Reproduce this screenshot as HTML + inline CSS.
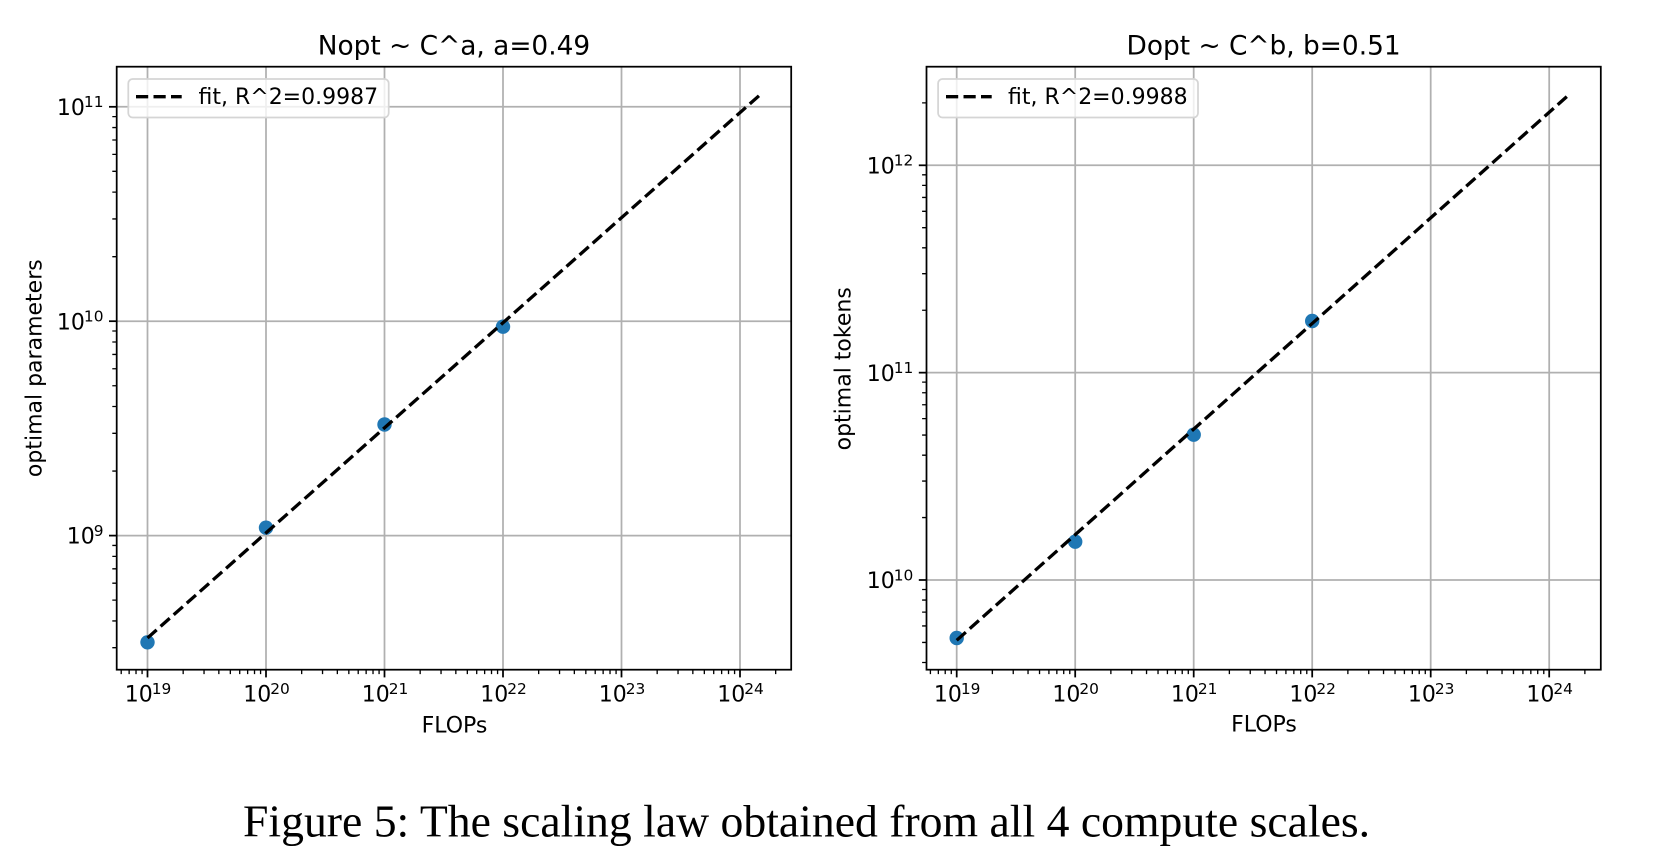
<!DOCTYPE html>
<html>
<head>
<meta charset="utf-8">
<style>
  html, body { margin: 0; padding: 0; background: #ffffff; }
  svg { display: block; }
  .t { font-family: "DejaVu Sans", "Liberation Sans", sans-serif; fill: #000; }
</style>
</head>
<body>
<svg width="1664" height="846" viewBox="0 0 1664 846" xmlns="http://www.w3.org/2000/svg">
  <rect x="0" y="0" width="1664" height="846" fill="#ffffff"/>

  <!-- ================= LEFT PANEL ================= -->
  <!-- grid -->
  <g stroke="#b0b0b0" stroke-width="1.76" fill="none">
    <line x1="147.5" y1="66.7" x2="147.5" y2="669.7"/>
    <line x1="266" y1="66.7" x2="266" y2="669.7"/>
    <line x1="384.5" y1="66.7" x2="384.5" y2="669.7"/>
    <line x1="503" y1="66.7" x2="503" y2="669.7"/>
    <line x1="621.5" y1="66.7" x2="621.5" y2="669.7"/>
    <line x1="740" y1="66.7" x2="740" y2="669.7"/>
    <line x1="116.7" y1="535.6" x2="791.2" y2="535.6"/>
    <line x1="116.7" y1="321.2" x2="791.2" y2="321.2"/>
    <line x1="116.7" y1="106.8" x2="791.2" y2="106.8"/>
  </g>
  <!-- points -->
  <g fill="#1f77b4">
    <circle cx="147.5" cy="642.3" r="7.2"/>
    <circle cx="266" cy="527.7" r="7.2"/>
    <circle cx="384.5" cy="424.5" r="7.2"/>
    <circle cx="503" cy="326.7" r="7.2"/>
  </g>
  <!-- fit line -->
  <line x1="147.5" y1="638" x2="761" y2="94" stroke="#000" stroke-width="3.3" stroke-dasharray="12.2 5.3" fill="none"/>
  <!-- spines -->
  <rect x="116.7" y="66.7" width="674.5" height="603" fill="none" stroke="#000" stroke-width="1.76"/>
  <!-- major ticks -->
  <g stroke="#000" stroke-width="1.76">
    <line x1="147.5" y1="669.7" x2="147.5" y2="677.4"/>
    <line x1="266" y1="669.7" x2="266" y2="677.4"/>
    <line x1="384.5" y1="669.7" x2="384.5" y2="677.4"/>
    <line x1="503" y1="669.7" x2="503" y2="677.4"/>
    <line x1="621.5" y1="669.7" x2="621.5" y2="677.4"/>
    <line x1="740" y1="669.7" x2="740" y2="677.4"/>
    <line x1="109" y1="535.6" x2="116.7" y2="535.6"/>
    <line x1="109" y1="321.2" x2="116.7" y2="321.2"/>
    <line x1="109" y1="106.8" x2="116.7" y2="106.8"/>
  </g>
  <!-- minor ticks -->
  <g stroke="#000" stroke-width="1.32">
    <path d="M121.21 669.7v4.4M129.14 669.7v4.4M136.02 669.7v4.4M142.08 669.7v4.4
             M183.17 669.7v4.4M204.04 669.7v4.4M218.84 669.7v4.4M230.33 669.7v4.4M239.71 669.7v4.4M247.64 669.7v4.4M254.52 669.7v4.4M260.58 669.7v4.4
             M301.67 669.7v4.4M322.54 669.7v4.4M337.34 669.7v4.4M348.83 669.7v4.4M358.21 669.7v4.4M366.14 669.7v4.4M373.02 669.7v4.4M379.08 669.7v4.4
             M420.17 669.7v4.4M441.04 669.7v4.4M455.84 669.7v4.4M467.33 669.7v4.4M476.71 669.7v4.4M484.64 669.7v4.4M491.52 669.7v4.4M497.58 669.7v4.4
             M538.67 669.7v4.4M559.54 669.7v4.4M574.34 669.7v4.4M585.83 669.7v4.4M595.21 669.7v4.4M603.14 669.7v4.4M610.02 669.7v4.4M616.08 669.7v4.4
             M657.17 669.7v4.4M678.04 669.7v4.4M692.84 669.7v4.4M704.33 669.7v4.4M713.71 669.7v4.4M721.64 669.7v4.4M728.52 669.7v4.4M734.58 669.7v4.4
             M775.67 669.7v4.4"/>
    <path d="M112.3 647.71h4.4M112.3 620.92h4.4M112.3 600.14h4.4M112.3 583.16h4.4M112.3 568.81h4.4M112.3 556.38h4.4M112.3 545.41h4.4
             M112.3 471.06h4.4M112.3 433.31h4.4M112.3 406.52h4.4M112.3 385.74h4.4M112.3 368.76h4.4M112.3 354.41h4.4M112.3 341.98h4.4M112.3 331.01h4.4
             M112.3 256.66h4.4M112.3 218.91h4.4M112.3 192.12h4.4M112.3 171.34h4.4M112.3 154.36h4.4M112.3 140.01h4.4M112.3 127.58h4.4M112.3 116.61h4.4"/>
  </g>
  <!-- x tick labels -->
  <g class="t" text-anchor="middle">
    <text x="148" y="701.7"><tspan font-size="22">10</tspan><tspan font-size="15.4" dx="-1" dy="-7.8">19</tspan></text>
    <text x="266.5" y="701.7"><tspan font-size="22">10</tspan><tspan font-size="15.4" dx="-1" dy="-7.8">20</tspan></text>
    <text x="385" y="701.7"><tspan font-size="22">10</tspan><tspan font-size="15.4" dx="-1" dy="-7.8">21</tspan></text>
    <text x="503.5" y="701.7"><tspan font-size="22">10</tspan><tspan font-size="15.4" dx="-1" dy="-7.8">22</tspan></text>
    <text x="622" y="701.7"><tspan font-size="22">10</tspan><tspan font-size="15.4" dx="-1" dy="-7.8">23</tspan></text>
    <text x="740.5" y="701.7"><tspan font-size="22">10</tspan><tspan font-size="15.4" dx="-1" dy="-7.8">24</tspan></text>
  </g>
  <!-- y tick labels -->
  <g class="t" text-anchor="end">
    <text x="103.5" y="543.7"><tspan font-size="22">10</tspan><tspan font-size="15.4" dx="-1" dy="-7.8">9</tspan></text>
    <text x="103.5" y="329.3"><tspan font-size="22">10</tspan><tspan font-size="15.4" dx="-1" dy="-7.8">10</tspan></text>
    <text x="103.5" y="114.9"><tspan font-size="22">10</tspan><tspan font-size="15.4" dx="-1" dy="-7.8">11</tspan></text>
  </g>
  <!-- labels -->
  <text class="t" x="454" y="54.3" font-size="26.4" text-anchor="middle">Nopt ~ C^a, a=0.49</text>
  <text class="t" x="454.5" y="732.5" font-size="22" text-anchor="middle">FLOPs</text>
  <text class="t" font-size="22" text-anchor="middle" transform="translate(41.7 368.2) rotate(-90)">optimal parameters</text>
  <!-- legend -->
  <rect x="128.3" y="79" width="260.4" height="38.5" rx="4.4" ry="4.4" fill="#ffffff" fill-opacity="0.8" stroke="#d5d5d5" stroke-width="1.76"/>
  <line x1="136" y1="96.7" x2="181.7" y2="96.7" stroke="#000" stroke-width="3.3" stroke-dasharray="12.2 5.3"/>
  <text class="t" x="198.5" y="104" font-size="22">fit, R^2=0.9987</text>

  <!-- ================= RIGHT PANEL ================= -->
  <g stroke="#b0b0b0" stroke-width="1.76" fill="none">
    <line x1="956.7" y1="66.7" x2="956.7" y2="669.7"/>
    <line x1="1075.2" y1="66.7" x2="1075.2" y2="669.7"/>
    <line x1="1193.7" y1="66.7" x2="1193.7" y2="669.7"/>
    <line x1="1312.2" y1="66.7" x2="1312.2" y2="669.7"/>
    <line x1="1430.7" y1="66.7" x2="1430.7" y2="669.7"/>
    <line x1="1549.2" y1="66.7" x2="1549.2" y2="669.7"/>
    <line x1="926.5" y1="580" x2="1600.8" y2="580"/>
    <line x1="926.5" y1="372.65" x2="1600.8" y2="372.65"/>
    <line x1="926.5" y1="165.3" x2="1600.8" y2="165.3"/>
  </g>
  <g fill="#1f77b4">
    <circle cx="956.7" cy="638" r="7.2"/>
    <circle cx="1075.2" cy="541.7" r="7.2"/>
    <circle cx="1193.7" cy="434.7" r="7.2"/>
    <circle cx="1312.2" cy="321" r="7.2"/>
  </g>
  <line x1="956.7" y1="640.3" x2="1569.4" y2="94.3" stroke="#000" stroke-width="3.3" stroke-dasharray="12.2 5.3" fill="none"/>
  <rect x="926.5" y="66.7" width="674.3" height="603" fill="none" stroke="#000" stroke-width="1.76"/>
  <g stroke="#000" stroke-width="1.76">
    <line x1="956.7" y1="669.7" x2="956.7" y2="677.4"/>
    <line x1="1075.2" y1="669.7" x2="1075.2" y2="677.4"/>
    <line x1="1193.7" y1="669.7" x2="1193.7" y2="677.4"/>
    <line x1="1312.2" y1="669.7" x2="1312.2" y2="677.4"/>
    <line x1="1430.7" y1="669.7" x2="1430.7" y2="677.4"/>
    <line x1="1549.2" y1="669.7" x2="1549.2" y2="677.4"/>
    <line x1="918.8" y1="580" x2="926.5" y2="580"/>
    <line x1="918.8" y1="372.65" x2="926.5" y2="372.65"/>
    <line x1="918.8" y1="165.3" x2="926.5" y2="165.3"/>
  </g>
  <g stroke="#000" stroke-width="1.32">
    <path d="M930.41 669.7v4.4M938.34 669.7v4.4M945.22 669.7v4.4M951.28 669.7v4.4
             M992.37 669.7v4.4M1013.24 669.7v4.4M1028.04 669.7v4.4M1039.53 669.7v4.4M1048.91 669.7v4.4M1056.84 669.7v4.4M1063.72 669.7v4.4M1069.78 669.7v4.4
             M1110.87 669.7v4.4M1131.74 669.7v4.4M1146.54 669.7v4.4M1158.03 669.7v4.4M1167.41 669.7v4.4M1175.34 669.7v4.4M1182.22 669.7v4.4M1188.28 669.7v4.4
             M1229.37 669.7v4.4M1250.24 669.7v4.4M1265.04 669.7v4.4M1276.53 669.7v4.4M1285.91 669.7v4.4M1293.84 669.7v4.4M1300.72 669.7v4.4M1306.78 669.7v4.4
             M1347.87 669.7v4.4M1368.74 669.7v4.4M1383.54 669.7v4.4M1395.03 669.7v4.4M1404.41 669.7v4.4M1412.34 669.7v4.4M1419.22 669.7v4.4M1425.28 669.7v4.4
             M1466.37 669.7v4.4M1487.24 669.7v4.4M1502.04 669.7v4.4M1513.53 669.7v4.4M1522.91 669.7v4.4M1530.84 669.7v4.4M1537.72 669.7v4.4M1543.78 669.7v4.4
             M1584.87 669.7v4.4"/>
    <path d="M922.1 662.51h4.4M922.1 642.42h4.4M922.1 625.95h4.4M922.1 612.12h4.4M922.1 600.09h4.4M922.1 589.49h4.4
             M922.1 517.58h4.4M922.1 481.07h4.4M922.1 455.16h4.4M922.1 435.07h4.4M922.1 418.65h4.4M922.1 404.77h4.4M922.1 392.74h4.4M922.1 382.14h4.4
             M922.1 310.23h4.4M922.1 273.72h4.4M922.1 247.81h4.4M922.1 227.72h4.4M922.1 211.3h4.4M922.1 197.42h4.4M922.1 185.39h4.4M922.1 174.79h4.4
             M922.1 102.88h4.4"/>
  </g>
  <g class="t" text-anchor="middle">
    <text x="957.2" y="701.7"><tspan font-size="22">10</tspan><tspan font-size="15.4" dx="-1" dy="-7.8">19</tspan></text>
    <text x="1075.7" y="701.7"><tspan font-size="22">10</tspan><tspan font-size="15.4" dx="-1" dy="-7.8">20</tspan></text>
    <text x="1194.2" y="701.7"><tspan font-size="22">10</tspan><tspan font-size="15.4" dx="-1" dy="-7.8">21</tspan></text>
    <text x="1312.7" y="701.7"><tspan font-size="22">10</tspan><tspan font-size="15.4" dx="-1" dy="-7.8">22</tspan></text>
    <text x="1431.2" y="701.7"><tspan font-size="22">10</tspan><tspan font-size="15.4" dx="-1" dy="-7.8">23</tspan></text>
    <text x="1549.7" y="701.7"><tspan font-size="22">10</tspan><tspan font-size="15.4" dx="-1" dy="-7.8">24</tspan></text>
  </g>
  <g class="t" text-anchor="end">
    <text x="913.3" y="588.1"><tspan font-size="22">10</tspan><tspan font-size="15.4" dx="-1" dy="-7.8">10</tspan></text>
    <text x="913.3" y="380.75"><tspan font-size="22">10</tspan><tspan font-size="15.4" dx="-1" dy="-7.8">11</tspan></text>
    <text x="913.3" y="173.4"><tspan font-size="22">10</tspan><tspan font-size="15.4" dx="-1" dy="-7.8">12</tspan></text>
  </g>
  <text class="t" x="1263.6" y="54.3" font-size="26.4" text-anchor="middle">Dopt ~ C^b, b=0.51</text>
  <text class="t" x="1264" y="731.5" font-size="22" text-anchor="middle">FLOPs</text>
  <text class="t" font-size="22" text-anchor="middle" transform="translate(850.5 368.8) rotate(-90)">optimal tokens</text>
  <rect x="938.1" y="79" width="259.9" height="38.5" rx="4.4" ry="4.4" fill="#ffffff" fill-opacity="0.8" stroke="#d5d5d5" stroke-width="1.76"/>
  <line x1="946" y1="96.7" x2="991.7" y2="96.7" stroke="#000" stroke-width="3.3" stroke-dasharray="12.2 5.3"/>
  <text class="t" x="1008" y="104" font-size="22">fit, R^2=0.9988</text>

  <!-- caption -->
  <text x="243" y="836.7" font-family="'Liberation Serif', 'Times New Roman', serif" font-size="45.7" fill="#000">Figure 5: The scaling law obtained from all 4 compute scales.</text>
</svg>
</body>
</html>
